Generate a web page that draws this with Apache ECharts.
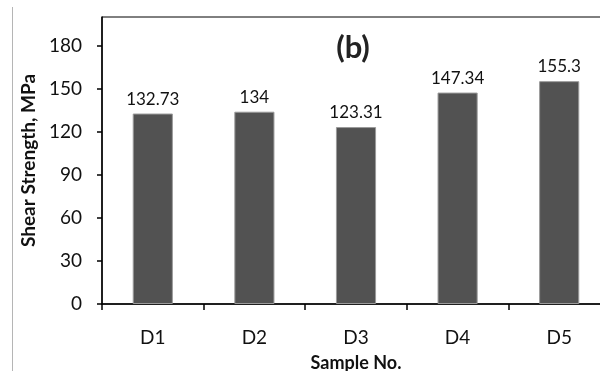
<!DOCTYPE html>
<html>
<head>
<meta charset="utf-8">
<script src="https://cdn.jsdelivr.net/npm/echarts@6/dist/echarts.min.js"></script>
<style>html,body{margin:0;padding:0;background:#fff;}#c{width:600px;height:371px;}</style>
</head>
<body>
<div id="c"></div>
<script>
var categories = ['D1', 'D2', 'D3', 'D4', 'D5'];
var shearStrength = [132.73, 134, 123.31, 147.34, 155.3];
var yTicks = [0, 30, 60, 90, 120, 150, 180];
var titleText = '(b)';
var xName = 'Sample No.';
var yName = 'Shear Strength, MPa';

var chart = echarts.init(document.getElementById('c'), null, {renderer: 'canvas'});
var font = 'Lato, "Open Sans", sans-serif';
chart.setOption({
  animation: false,
  backgroundColor: '#fff',
  title: {
    text: titleText, left: 348, top: 27, textAlign: 'center',
    textStyle: {fontFamily: font, fontSize: 31, fontWeight: 'bold', color: '#222'}
  },
  graphic: [{
    type: 'line', shape: {x1: 12.5, y1: 7, x2: 12.5, y2: 371},
    style: {stroke: '#b5b5b5', lineWidth: 1}
  }],
  grid: {
    left: 102, right: -10, top: 17, bottom: 67,
    outerBoundsMode: 'none', containLabel: false,
    show: true, borderColor: '#000', borderWidth: 1, backgroundColor: 'transparent'
  },
  xAxis: {
    type: 'category', data: categories,
    name: xName, nameLocation: 'middle', nameGap: 50,
    nameTextStyle: {fontFamily: font, fontSize: 18, fontWeight: 'bold', color: '#111'},
    axisLine: {lineStyle: {color: '#000', width: 1.5}},
    axisTick: {show: true, length: 6, alignWithLabel: false, lineStyle: {color: '#000', width: 1.5}},
    axisLabel: {margin: 24, fontFamily: font, fontSize: 19, color: '#111'}
  },
  yAxis: {
    type: 'value', min: 0, max: 200,
    name: yName, nameLocation: 'middle', nameGap: 54,
    nameTextStyle: {fontFamily: font, fontSize: 19, fontWeight: 'bold', color: '#111'},
    axisLine: {show: true, lineStyle: {color: '#000', width: 1.5}},
    axisTick: {show: true, length: 5, customValues: yTicks, lineStyle: {color: '#000', width: 1.5}},
    axisLabel: {customValues: yTicks, margin: 20, fontFamily: font, fontSize: 19, color: '#111'},
    splitLine: {show: false}
  },
  series: [{
    type: 'bar', data: shearStrength, barWidth: '39.5%',
    itemStyle: {color: '#525252', borderColor: '#9a9a9a', borderWidth: 1},
    label: {show: true, position: 'top', distance: 6, fontFamily: font, fontSize: 17, color: '#111'}
  }]
});
</script>
</body>
</html>
